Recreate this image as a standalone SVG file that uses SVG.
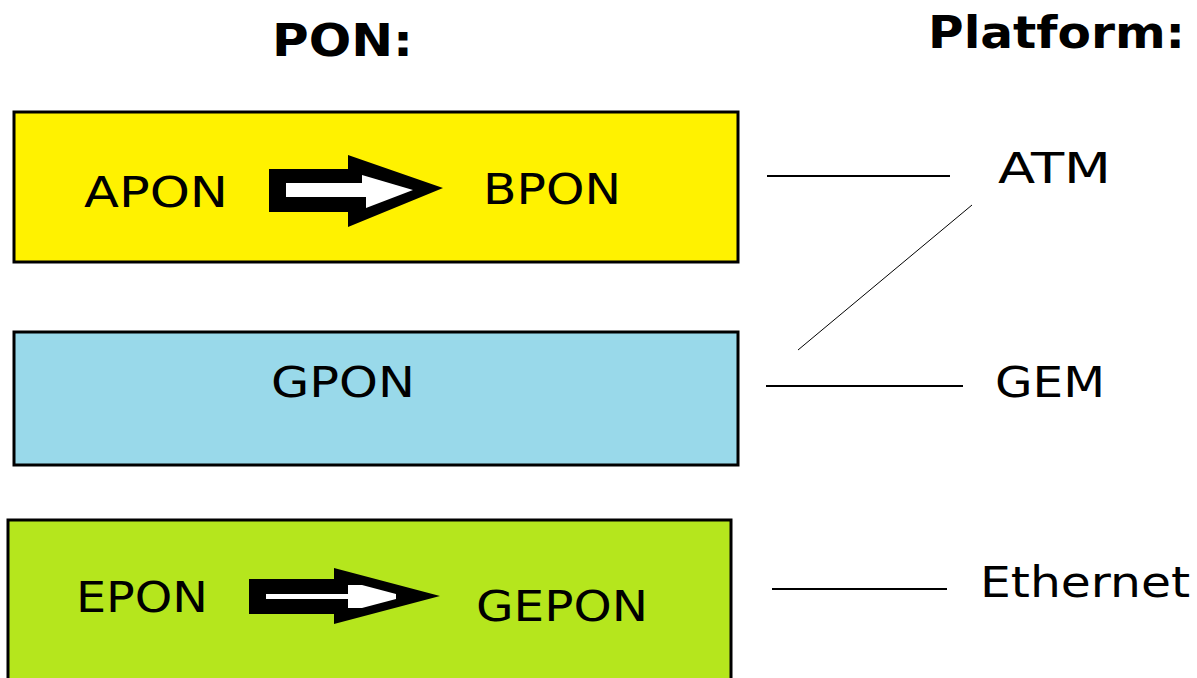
<svg xmlns="http://www.w3.org/2000/svg" width="1197" height="678" viewBox="0 0 1197 678">
<style>
.box{stroke:#000;stroke-width:3}
.t{font-family:"DejaVu Sans","Liberation Sans",sans-serif;font-size:42px;fill:#000}
.h{font-family:"DejaVu Sans","Liberation Sans",sans-serif;font-size:44px;font-weight:bold;fill:#000}
.ln{stroke:#000;stroke-width:2;fill:none}
.ln1{stroke:#000;stroke-width:1;fill:none}
</style>
<rect width="1197" height="678" fill="#fff"/>
<g id="title-pon"><text class="h" x="272" y="56" textLength="141" lengthAdjust="spacingAndGlyphs">PON:</text></g>
<g id="title-platform"><text class="h" x="928" y="48" textLength="257" lengthAdjust="spacingAndGlyphs">Platform:</text></g>
<g id="box-apon">
<rect class="box" x="14" y="112" width="724" height="150" fill="#FFF200"/>
<text class="t" x="84" y="207" textLength="144" lengthAdjust="spacingAndGlyphs">APON</text>
<polygon points="269,169 348,169 348,155 443,188 348,227 348,212 269,212" fill="#000"/>
<polygon points="286,183 362,183 362,175 413,190 366,208 366,197 286,197" fill="#fff"/>
<text class="t" x="483" y="204" textLength="138" lengthAdjust="spacingAndGlyphs">BPON</text>
</g>
<g id="box-gpon">
<rect class="box" x="14" y="332" width="724" height="133" fill="#99D9EA"/>
<text class="t" x="271" y="397" textLength="144" lengthAdjust="spacingAndGlyphs">GPON</text>
</g>
<g id="box-epon">
<rect class="box" x="8" y="520" width="723" height="170" fill="#B5E61D"/>
<text class="t" x="76" y="612" textLength="132" lengthAdjust="spacingAndGlyphs">EPON</text>
<polygon points="249,579 334,579 334,568 440,596 334,624 334,614 249,614" fill="#000"/>
<rect x="266" y="594" width="90" height="5" fill="#fff"/>
<polygon points="348,585 362,585 396,594 396,599 362,608 348,608" fill="#fff"/>
<text class="t" x="476" y="621" textLength="172" lengthAdjust="spacingAndGlyphs">GEPON</text>
</g>
<g id="node-atm"><text class="t" x="998" y="183" textLength="113" lengthAdjust="spacingAndGlyphs">ATM</text></g>
<g id="node-gem"><text class="t" x="995" y="397" textLength="110" lengthAdjust="spacingAndGlyphs">GEM</text></g>
<g id="node-ethernet"><text class="t" x="980" y="597" textLength="210" lengthAdjust="spacingAndGlyphs">Ethernet</text></g>
<g id="connectors">
<line class="ln" x1="767" y1="176" x2="950" y2="176"/>
<line class="ln1" x1="972" y1="205" x2="798" y2="350"/>
<line class="ln" x1="766" y1="386" x2="963" y2="386"/>
<line class="ln" x1="772" y1="589" x2="947" y2="589"/>
</g>
</svg>
